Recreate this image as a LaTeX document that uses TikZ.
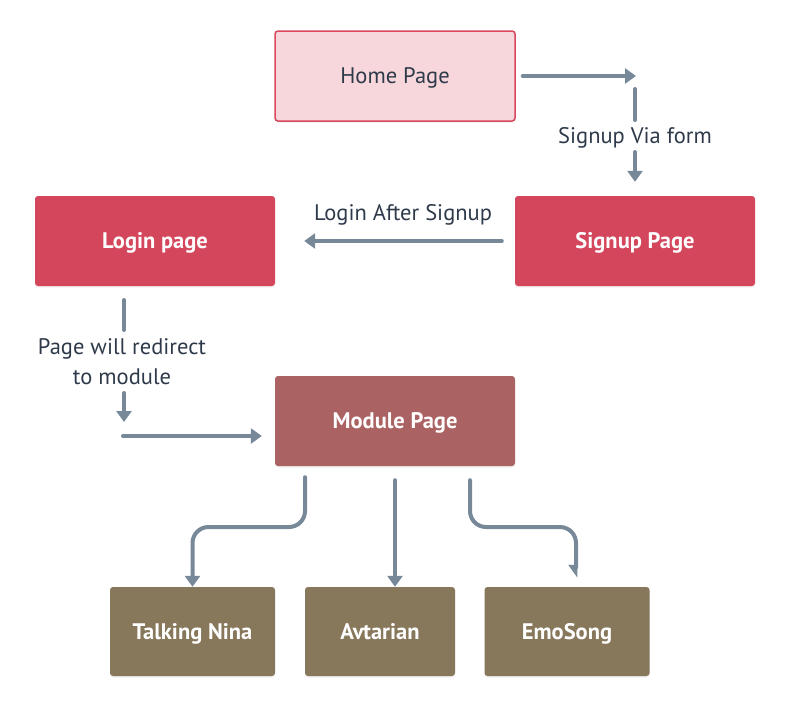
\documentclass[tikz,border=0pt]{standalone}
\usepackage{fontspec}
\setmainfont{PT Sans}
\usetikzlibrary{arrows.meta, shadows}

\definecolor{homefill}{HTML}{F7D7DC}
\definecolor{homeline}{HTML}{D9485C}
\definecolor{pagered}{HTML}{D4465B}
\definecolor{modred}{HTML}{AB6262}
\definecolor{subbrown}{HTML}{87775B}
\definecolor{flechagris}{HTML}{778899}
\definecolor{texto}{HTML}{2E3A4A}

\tikzset{
    caja/.style={rectangle, rounded corners=3pt, minimum width=240pt, minimum height=90pt,
        inner sep=0pt, text=white, font=\fontsize{22.5}{27}\selectfont\bfseries,
        text height=15.8pt, text depth=0pt,
        drop shadow={opacity=0.12, shadow xshift=0pt, shadow yshift=-1.5pt}},
    subcaja/.style={caja, fill=subbrown, minimum width=165pt, minimum height=89pt},
    linea/.style={draw=flechagris, line width=4pt, line cap=round},
    flecha/.style={linea, -{Triangle[width=15pt, length=11pt]}},
    media/.style={linea, -{Triangle[right, width=15pt, length=11pt]}},
    etiqueta/.style={text=texto, font=\fontsize{22.5}{30}\selectfont, align=center, inner sep=0pt}
}

\begin{document}
\begin{tikzpicture}[x=1pt, y=-1pt]
    \useasboundingbox (0,0) rectangle (786,707);

    % Cajas
    \node[caja, fill=homefill, draw=homeline, line width=1.5pt, text=texto,
        font=\fontsize{22.5}{27}\selectfont] (home) at (395,76) {Home Page};
    \node[caja, fill=pagered] (login) at (155,241) {Login page};
    \node[caja, fill=pagered] (signup) at (635,241) {Signup Page};
    \node[caja, fill=modred] (module) at (395,421) {Module Page};
    \node[subcaja] (nina) at (192.5,631.5) {Talking Nina};
    \node[subcaja, minimum width=150pt] (avtarian) at (380,631.5) {Avtarian};
    \node[subcaja] (emosong) at (567,631.5) {EmoSong};

    % Etiquetas
    \node[etiqueta, text height=15.8pt, text depth=0pt] (via) at (635,136) {Signup Via form};
    \node[etiqueta, text height=15.8pt, text depth=0pt] (tras) at (403,212.5) {Login After Signup};
    \node[etiqueta] (redir) at (122,362) {Page will redirect\\to module};

    % Puntos libres
    \coordinate (giro) at (636,76);
    \coordinate (via1) at (635,89);
    \coordinate (via2) at (635,120);
    \coordinate (via3) at (635,152);
    \coordinate (red1) at (124,300);
    \coordinate (red2) at (124,330);
    \coordinate (red3) at (124,393);
    \coordinate (red4) at (124,422);
    \coordinate (red5) at (123,436);
    \coordinate (rama) at (0,527);
    \coordinate (emo) at ([xshift=9pt]emosong.north);

    % Flechas de arriba
    \draw[flecha, shorten <=7pt] (home.east) -- (giro);
    \draw[linea] (via1) -- (via2);
    \draw[flecha, shorten >=14pt] (via3) -- (signup.north);
    \draw[flecha, shorten <=13pt, shorten >=29pt] (signup) -- (login);

    % Hacia el modulo
    \draw[linea] (red1) -- (red2);
    \draw[flecha] (red3) -- (red4);
    \draw[flecha, shorten >=13pt] (red5) -- ([yshift=-15pt]module.west);

    % Ramas del modulo
    \draw[flecha, rounded corners=16pt] ([xshift=-90pt, yshift=-11pt]module.south)
        |- (rama -| nina.north) -- (nina.north);
    \draw[flecha] ([yshift=-14pt]module.south) -- (module.south |- avtarian.north);
    \draw[media, rounded corners=16pt, shorten >=9pt] ([xshift=75pt, yshift=-14pt]module.south)
        |- (rama -| emo) -- (emo);
\end{tikzpicture}
\end{document}
